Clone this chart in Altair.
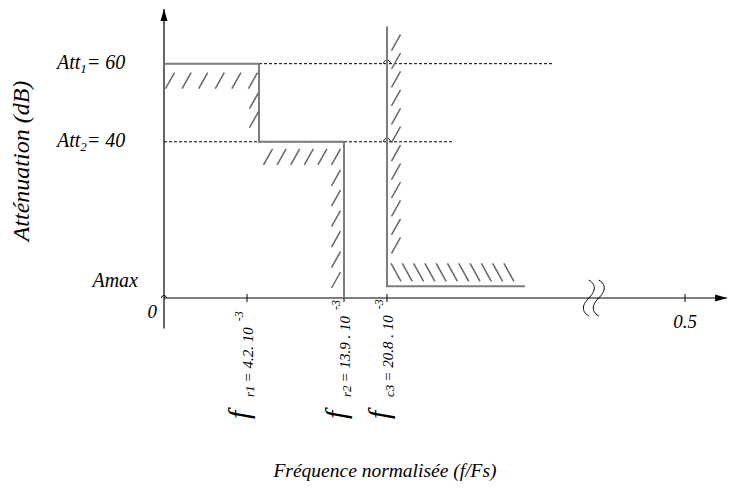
import altair as alt
import numpy as np
import pandas as pd

# ---------------- values ----------------
freq_names = ["r1", "r2", "c3"]
freq_values = [0.0042, 0.0139, 0.0208]
freq_mantissa = ["4.2.", "13.9 .", "20.8 ."]
freq_exponent = "-3"
f_end = 0.5
f_end_label = "0.5"
origin_label = "0"

att_names = ["1", "2"]
att_values = [60, 40]
att_label_values = ["60", "40"]
amax_value = 3
amax_label = "Amax"

# template (gabarit) corners
pass_x = [0.0, 0.0054, 0.0054, 0.0139, 0.0139]
pass_y = [60, 60, 40, 40, 0]
stop_x = [0.0208, 0.0208, 0.2426]
stop_y = [69.5, 3, 3]
dash_end = [0.2892, 0.1253]     # ends of the dotted Att1 / Att2 guides
break_at = 0.3454               # broken-axis symbol
x_max = 0.5675
y_max = 74
y_axis_bottom = -7.8

y_title = "Atténuation (dB)"
x_title = "Fréquence normalisée (f/Fs)"

# ---------------- layout ----------------
W, H = 563, 289
XDOM = [0.0, 0.0042, 0.0139, 0.0208, 0.5, x_max]      # broken / schematic frequency axis
XRNG = [0, 83, 180, 223, 521, W]
FONT = "Liberation Serif"
GREY = "#7d7d7d"
HATCH = "#666666"

xs = alt.Scale(domain=XDOM, range=XRNG, nice=False, zero=False)
ys = alt.Scale(domain=[0, y_max], nice=False, zero=False)


def X(f):
    return alt.X(f, type="quantitative", scale=xs, axis=None)


def Y(f):
    return alt.Y(f, type="quantitative", scale=ys, axis=None)


def fx(v):
    return np.interp(v, XDOM, XRNG)


def ix(p):
    return np.interp(p, XRNG, XDOM)


def fy(v):
    return H - np.asarray(v, dtype=float) * H / y_max


def iy(p):
    return (H - np.asarray(p, dtype=float)) * y_max / H


WID = {"A": .611, "t": .278, "=": .675, " ": .25, ".": .25, "r": .389,
       "c": .444, "-": .333, "f": .278}


def tw(s, size):
    return sum(WID.get(c, .5) for c in s) * size


layers = []

# ---- axes ----
yaxis = pd.DataFrame({"x": [0.0], "y1": [y_axis_bottom], "y2": [y_max]})
layers.append(alt.Chart(yaxis).mark_rule(color="black", strokeWidth=1.2).encode(
    x=X("x"), y=Y("y1"), y2="y2:Q"))
xaxis = pd.DataFrame({"x1": [0.0], "x2": [x_max], "y": [0.0]})
layers.append(alt.Chart(xaxis).mark_rule(color="black", strokeWidth=1.2).encode(
    x=X("x1"), x2="x2:Q", y=Y("y")))

# arrows
layers.append(alt.Chart(pd.DataFrame({"x": [0.0], "y": [y_max]})).mark_point(
    shape="M0,0L-1,3.4L1,3.4Z", size=49, filled=True, color="black", opacity=1).encode(
    x=X("x"), y=Y("y")))
layers.append(alt.Chart(pd.DataFrame({"x": [x_max], "y": [0.0]})).mark_point(
    shape="M0,0L-3.4,-1L-3.4,1Z", size=49, filled=True, color="black", opacity=1).encode(
    x=X("x"), y=Y("y")))

# ticks
tick_df = pd.DataFrame({"x": freq_values + [f_end], "y": [0.0] * 4})
layers.append(alt.Chart(tick_df).mark_rule(color="black", strokeWidth=1, yOffset=-4, y2Offset=4).encode(
    x=X("x"), y=Y("y"), y2="y:Q"))

# humps (line crossings)
hump = "M-1,0A1,1 0 0 1 1,0"
layers.append(alt.Chart(pd.DataFrame({"x": [0.0], "y": [0.0]})).mark_point(
    shape=hump, size=25, filled=False, color="black", strokeWidth=1, opacity=1).encode(
    x=X("x"), y=Y("y")))
layers.append(alt.Chart(pd.DataFrame({"x": [stop_x[0]] * 2, "y": att_values})).mark_point(
    shape=hump, size=49, filled=False, color="black", strokeWidth=1, opacity=1).encode(
    x=X("x"), y=Y("y")))

# broken-axis symbol
brk = ("M0,-1C0.5,-0.7 0.3,-0.3 0,0C-0.3,0.3 -0.5,0.7 0,1"
       "M0.55,-1C1.05,-0.7 0.85,-0.3 0.55,0C0.25,0.3 0.05,0.7 0.55,1")
layers.append(alt.Chart(pd.DataFrame({"x": [break_at], "y": [0.0]})).mark_point(
    shape=brk, size=1296, filled=False, color="black", strokeWidth=1, opacity=1).encode(
    x=X("x"), y=Y("y")))

# dotted guides
guide_df = pd.DataFrame({"x1": [0.0, 0.0], "x2": dash_end, "y": att_values})
layers.append(alt.Chart(guide_df).mark_rule(color="black", strokeWidth=1, strokeDash=[3, 2]).encode(
    x=X("x1"), x2="x2:Q", y=Y("y")))

# template lines
pass_df = pd.DataFrame({"x": pass_x, "y": pass_y, "i": range(len(pass_x))})
layers.append(alt.Chart(pass_df).mark_line(color=GREY, strokeWidth=2).encode(
    x=X("x"), y=Y("y"), order="i:Q"))
stop_df = pd.DataFrame({"x": stop_x, "y": stop_y, "i": range(len(stop_x))})
layers.append(alt.Chart(stop_df).mark_line(color=GREY, strokeWidth=2).encode(
    x=X("x"), y=Y("y"), order="i:Q"))


# ---- hatching along the template (style) ----
def strip(p0, p1, n):
    px = np.linspace(p0[0], p1[0], n)
    py = np.linspace(p0[1], p1[1], n)
    return pd.DataFrame({"hx": ix(px), "hy": iy(py)})


x1s, x2s, x3s, x4s = fx(pass_x[1]), fx(pass_x[3]), fx(stop_x[0]), fx(stop_x[2])
yA1, yA2, yAm, y0 = fy(att_values[0]), fy(att_values[1]), fy(amax_value), fy(0)
ytop = fy(stop_y[0])
fwd = pd.concat([
    strip((fx(0) + 6, yA1 + 17), (x1s - 6, yA1 + 17), 6),
    strip((x1s - 5, yA1 + 37), (x1s - 5, yA1 + 56), 2),
    strip((x1s + 9, yA2 + 15), (x2s - 8, yA2 + 15), 6),
    strip((x2s - 8, yA2 + 36), (x2s - 8, y0 - 18), 6),
    strip((x3s + 9, ytop + 16), (x3s + 9, yAm - 41), 12),
])
back = strip((x3s + 9, yAm - 14), (x4s - 16, yAm - 14), 11)
layers.append(alt.Chart(fwd).mark_rule(color=HATCH, strokeWidth=1.5, xOffset=-4.5, x2Offset=4.5,
                                       yOffset=8, y2Offset=-8).encode(
    x=X("hx"), x2="hx:Q", y=Y("hy"), y2="hy:Q"))
layers.append(alt.Chart(back).mark_rule(color=HATCH, strokeWidth=1.5, xOffset=-5, x2Offset=5,
                                        yOffset=-9, y2Offset=9).encode(
    x=X("hx"), x2="hx:Q", y=Y("hy"), y2="hy:Q"))


# ---- text ----
def txt(df, field, size, **kw):
    return alt.Chart(df).mark_text(font=FONT, fontStyle="italic", fontSize=size, color="black", **kw)


# Att labels: "Att" + subscript + "= 60"
att_df = pd.DataFrame({"x": [0.0, 0.0], "y": att_values, "a": ["Att", "Att"], "s": att_names,
                       "v": ["= " + v for v in att_label_values]})
ax0 = -107
layers.append(txt(att_df, "a", 20, align="left", baseline="alphabetic", dx=ax0, dy=5).encode(
    x=X("x"), y=Y("y"), text="a:N"))
layers.append(txt(att_df, "s", 13, align="left", baseline="alphabetic", dx=ax0 + tw("Att", 20), dy=9).encode(
    x=X("x"), y=Y("y"), text="s:N"))
layers.append(txt(att_df, "v", 20, align="left", baseline="alphabetic",
                  dx=ax0 + tw("Att", 20) + tw("1", 13), dy=5).encode(
    x=X("x"), y=Y("y"), text="v:N"))

amax_df = pd.DataFrame({"x": [0.0], "y": [amax_value], "t": [amax_label]})
layers.append(txt(amax_df, "t", 20, align="right", baseline="alphabetic", dx=-26, dy=1).encode(
    x=X("x"), y=Y("y"), text="t:N"))

zero_df = pd.DataFrame({"x": [0.0], "t": [origin_label]})
layers.append(txt(zero_df, "t", 19, align="right", baseline="alphabetic", dx=-7).encode(
    x=X("x"), y=alt.value(309), text="t:N"))
end_df = pd.DataFrame({"x": [f_end], "t": [f_end_label]})
layers.append(txt(end_df, "t", 19, align="center", baseline="alphabetic").encode(
    x=X("x"), y=alt.value(319), text="t:N"))

# rotated frequency labels
LY = 410
for name, val, man in zip(freq_names, freq_values, freq_mantissa):
    main = "= " + man + " 10"
    df = pd.DataFrame({"x": [val], "f": ["f"], "s": [name], "m": [main], "e": [freq_exponent]})
    d_sub = 22
    d_main = d_sub + tw(name, 13) + 3
    d_exp = d_main + tw(main, 15) + 6
    layers.append(txt(df, "f", 30, angle=270, align="left", baseline="alphabetic", dx=0, dy=2).encode(
        x=X("x"), y=alt.value(LY), text="f:N"))
    layers.append(txt(df, "s", 13, angle=270, align="left", baseline="alphabetic", dx=d_sub, dy=7).encode(
        x=X("x"), y=alt.value(LY), text="s:N"))
    layers.append(txt(df, "m", 15, angle=270, align="left", baseline="alphabetic", dx=d_main, dy=6).encode(
        x=X("x"), y=alt.value(LY), text="m:N"))
    layers.append(txt(df, "e", 12, angle=270, align="left", baseline="alphabetic", dx=d_exp, dy=-4).encode(
        x=X("x"), y=alt.value(LY), text="e:N"))

# axis titles
yt = pd.DataFrame({"t": [y_title]})
layers.append(txt(yt, "t", 24, angle=270, align="center", baseline="middle").encode(
    x=alt.value(-142), y=alt.value(152), text="t:N"))
xt = pd.DataFrame({"t": [x_title]})
layers.append(txt(xt, "t", 19.5, align="center", baseline="alphabetic").encode(
    x=alt.value(221), y=alt.value(468), text="t:N"))

chart = alt.layer(*layers).properties(
    width=W, height=H,
    autosize=alt.AutoSizeParams(type="none"),
    padding={"left": 156, "top": 1, "right": 1, "bottom": 186},
    background="white",
).configure_view(stroke=None)

chart.save("out.html", embed_options={"renderer": "svg", "actions": False})
